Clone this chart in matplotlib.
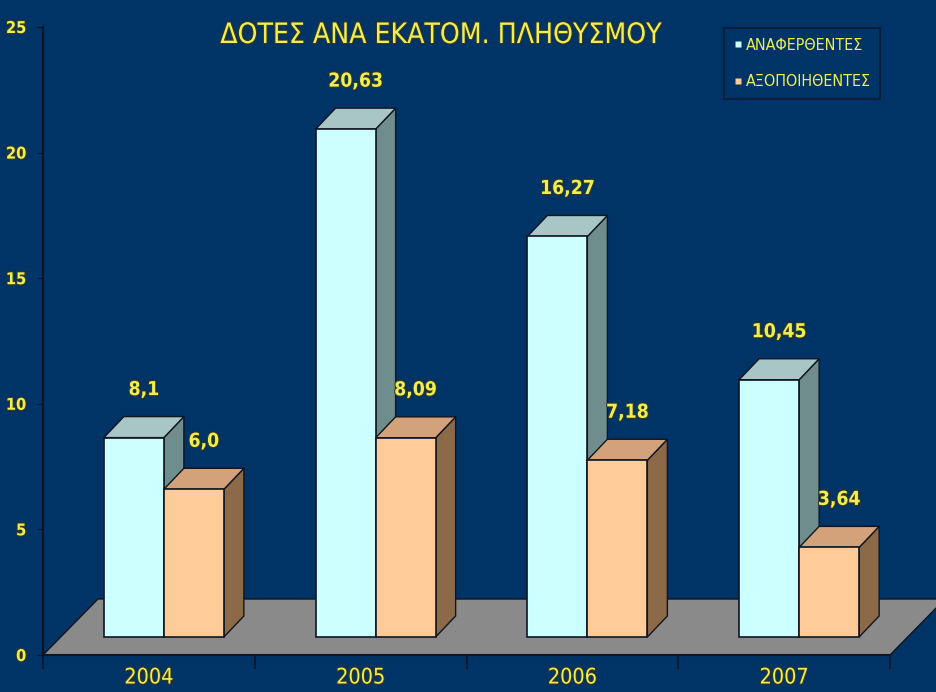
import matplotlib
matplotlib.use('Agg')
import matplotlib.pyplot as plt
from matplotlib.patches import Polygon, Rectangle
from matplotlib.lines import Line2D
from matplotlib import font_manager as fm
import matplotlib.patheffects as pe

# data
years = ['2004', '2005', '2006', '2007']
reported = [8.1, 20.63, 16.27, 10.45]
utilized = [6.0, 8.09, 7.18, 3.64]
series_names = ['ΑΝΑΦΕΡΘΕΝΤΕΣ', 'ΑΞΟΠΟΙΗΘΕΝΤΕΣ']
title = 'ΔΟΤΕΣ ΑΝΑ ΕΚΑΤΟΜ. ΠΛΗΘΥΣΜΟΥ'
yticks = [0, 5, 10, 15, 20, 25]

BG = '#003366'
YEL = '#eeee55'
DARK = '#101522'
# front, top, side colours of each series
cyan = ('#ccffff', '#a9c6c6', '#6f8d8d')
orange = ('#ffcc99', '#d4a27a', '#8c6a48')

# narrow font if there is one
FONT = ['DejaVu Sans']
STRETCH = 'normal'
narrow = 1.0
try:
    f = fm.findfont(fm.FontProperties(family='DejaVu Sans', stretch='condensed'),
                    fallback_to_default=False)
    if 'Condensed' in f:
        STRETCH = 'condensed'
        narrow = 0.88
except Exception:
    pass


def fnt(size, weight='normal'):
    return fm.FontProperties(family=FONT, size=size * narrow ** -0.5 if narrow < 1 else size,
                             weight=weight, stretch=STRETCH)


W, H = 937, 692
fig = plt.figure(figsize=(W / 100, H / 100), dpi=100, facecolor=BG)
# plot box in pixels: x 43..890, y 27..655
ax = fig.add_axes([43 / W, 1 - 655 / H, (890 - 43) / W, (655 - 27) / H])
ax.set_facecolor(BG)
ax.set_xlim(-0.5, len(years) - 0.5)
ax.set_ylim(0, 25)
px = len(years) / (890 - 43)   # data units per pixel
py = 25 / (655 - 27)

stroke = [pe.withStroke(linewidth=1.5, foreground='#3a3a1a')]

# floor
fdx, fdy = 55 * px, 56 * py
floor = Polygon([(-0.5, 0), (3.5, 0), (3.5 + fdx, fdy), (-0.5 + fdx, fdy)],
                closed=True, fc='#8a8a8a', ec=DARK, lw=1, clip_on=False, zorder=1)
ax.add_patch(floor)

dx, dy = 20 * px, 21 * py      # bar depth
bw = 60 * px                   # bar width
base = 18 * py                 # bars stand inside the floor
shrink = 0.98                  # perspective


def bar3d(x0, v, cols, z):
    h = v * shrink
    x1 = x0 + bw
    y0, y1 = base, base + h
    side = Polygon([(x1, y0), (x1, y1), (x1 + dx, y1 + dy), (x1 + dx, y0 + dy)],
                   fc=cols[2], ec=DARK, lw=1, zorder=z)
    top = Polygon([(x0, y1), (x1, y1), (x1 + dx, y1 + dy), (x0 + dx, y1 + dy)],
                  fc=cols[1], ec=DARK, lw=1, zorder=z)
    front = Rectangle((x0, y0), bw, h, fc=cols[0], ec=DARK, lw=1.2, zorder=z + 0.1)
    for p in (side, top, front):
        ax.add_patch(p)
    ax.text(x0 + bw / 2 + dx / 2, y1 + dy + 27 * py, str(v).replace('.', ','),
            ha='center', va='center', color=YEL, fontproperties=fnt(13, 'bold'),
            zorder=10, path_effects=stroke)


for i, (a, b) in enumerate(zip(reported, utilized)):
    bar3d(i - 45 * px, a, cyan, 2 + i)
    bar3d(i + 15 * px, b, orange, 2.5 + i)

# axes styling
for s in ('top', 'right'):
    ax.spines[s].set_visible(False)
for s in ('left', 'bottom'):
    ax.spines[s].set_color(DARK)
    ax.spines[s].set_linewidth(1.5)
    ax.spines[s].set_zorder(5)

ax.set_yticks(yticks)
ax.set_yticklabels([str(t) for t in yticks], fontproperties=fnt(11, 'bold'))
ax.tick_params(axis='y', colors=DARK, labelcolor=YEL, length=4, pad=8)

ax.set_xticks([i - 0.5 for i in range(len(years) + 1)])
ax.set_xticklabels([])
ax.tick_params(axis='x', which='major', colors=DARK, length=10, width=1.2)
ax.set_xticks(range(len(years)), minor=True)
ax.set_xticklabels(years, minor=True, fontproperties=fnt(14.5))
ax.tick_params(axis='x', which='minor', length=0, pad=9, labelcolor=YEL)

for lab in ax.get_xticklabels(minor=True) + ax.get_yticklabels():
    lab.set_path_effects(stroke)

# legend
handles = [Line2D([], [], marker='s', ls='', mfc=c[0], mec='none', ms=5)
           for c in (cyan, orange)]
leg = ax.legend(handles, series_names, loc='upper left',
                bbox_to_anchor=(716 / W, 1 - 20 / H), bbox_transform=fig.transFigure,
                frameon=True, fancybox=False, facecolor=BG, edgecolor='#0b1a33',
                prop=fnt(10.8), labelcolor=YEL,
                handlelength=0.5, handletextpad=0.25, borderpad=0.6, labelspacing=1.35)
leg.get_frame().set_linewidth(1.5)
leg.set_zorder(20)

fig.text(441 / W, 1 - 35 / H, title, ha='center', va='center',
         fontproperties=fnt(19), color=YEL, path_effects=stroke)

fig.savefig('out.png', dpi=100, facecolor=BG)
